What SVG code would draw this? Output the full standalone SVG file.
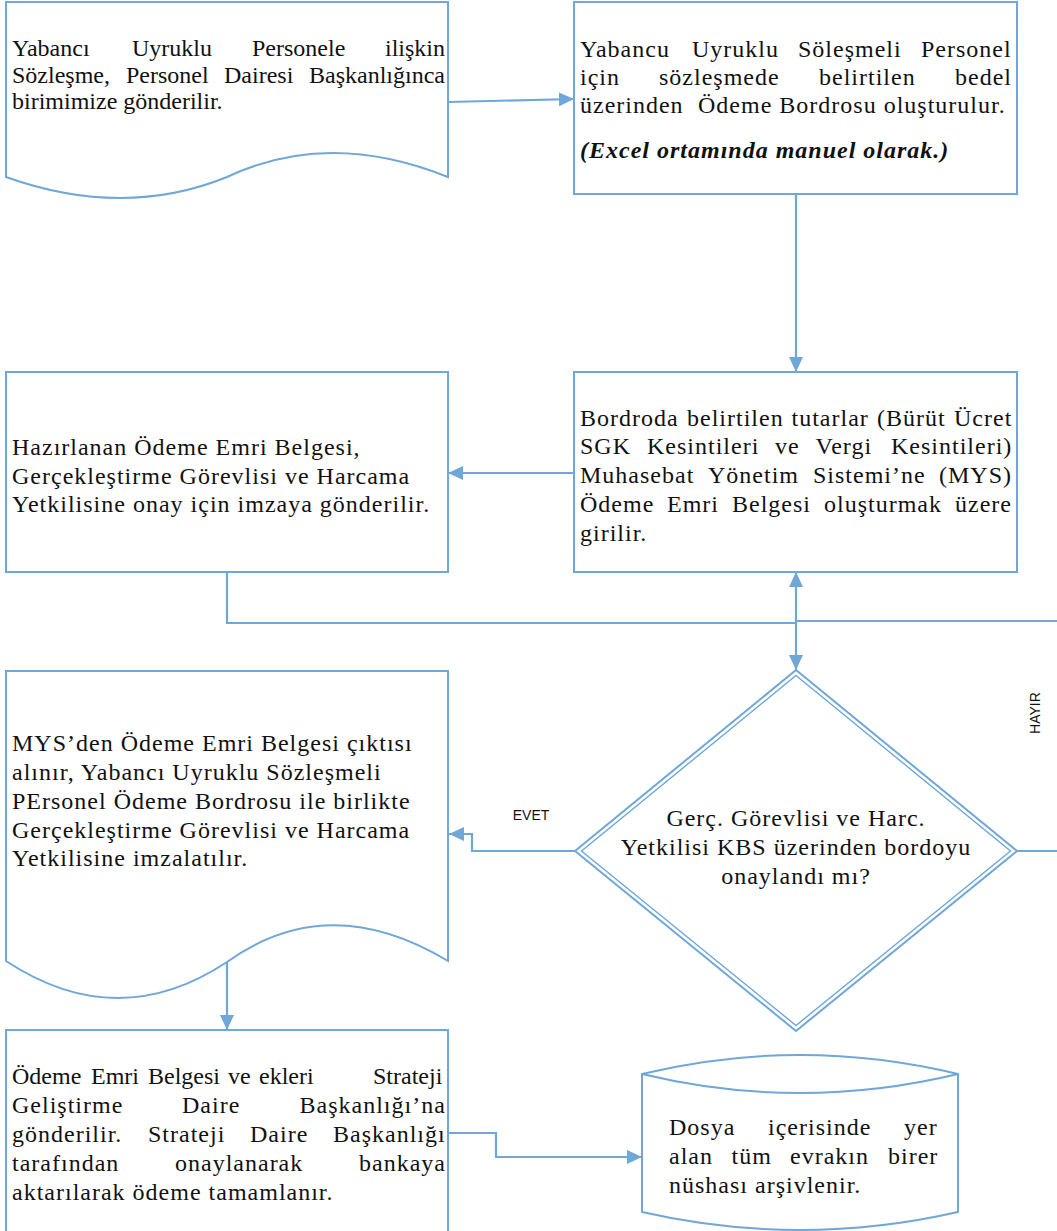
<svg xmlns="http://www.w3.org/2000/svg" width="1057" height="1231" viewBox="0 0 1057 1231">
  <style>
    .shape { fill: #ffffff; stroke: #6fa7d9; stroke-width: 2; }
    .dbl { fill: none; stroke: #6fa7d9; stroke-width: 1.4; }
    .conn { fill: none; stroke: #6fa7d9; stroke-width: 2.2; }
    .t { font-family: "Liberation Serif", "Times New Roman", serif; font-size: 24px; fill: #111111; letter-spacing: 1px; }
    .t0 { font-family: "Liberation Serif", "Times New Roman", serif; font-size: 24px; fill: #111111; }
    .bi { font-weight: bold; font-style: italic; }
    .lbl { font-family: "Liberation Sans", Arial, sans-serif; font-size: 14px; fill: #111111; }
  </style>
  <defs>
    <marker id="arrow" markerUnits="userSpaceOnUse" markerWidth="16" markerHeight="16" viewBox="0 0 16 16" refX="15" refY="8" orient="auto">
      <path d="M0,1 L15,8 L0,15 Z" fill="#6fa7d9"/>
    </marker>
  </defs>

  <rect width="1057" height="1231" fill="#ffffff"/>

  <!-- connectors -->
  <g id="connectors">
    <path class="conn" d="M448,102 L574,99" marker-end="url(#arrow)"/>
    <path class="conn" d="M796,194 V372" marker-end="url(#arrow)"/>
    <path class="conn" d="M574,473 H448" marker-end="url(#arrow)"/>
    <path class="conn" d="M227,572 V623 H796 V670" marker-end="url(#arrow)"/>
    <path class="conn" d="M1017,851 H1070 V621 H796 V572" marker-end="url(#arrow)"/>
    <path class="conn" d="M575,851 H472 V834 H449" marker-end="url(#arrow)"/>
    <path class="conn" d="M227,962 V1030" marker-end="url(#arrow)"/>
    <path class="conn" d="M448,1133 H496 V1157 H642" marker-end="url(#arrow)"/>
  </g>

  <!-- contract document received -->
  <g id="doc-sozlesme">
    <path class="shape" d="M6,2 H448 V177 Q328.5,129 227,177 Q123.5,219 6,177 Z"/>
    <text class="t0" y="56"><tspan x="12">Yabancı</tspan><tspan x="132">Uyruklu</tspan><tspan x="252">Personele</tspan><tspan x="385">ilişkin</tspan></text>
    <text class="t0" y="83"><tspan x="12">Sözleşme,</tspan><tspan x="126">Personel</tspan><tspan x="224">Dairesi</tspan><tspan x="309">Başkanlığınca</tspan></text>
    <text class="t0" x="12" y="109">birimimize gönderilir.</text>
  </g>

  <!-- payroll prepared -->
  <g id="box-bordro">
    <rect class="shape" x="574" y="2" width="443" height="192"/>
    <text class="t" y="57"><tspan x="580">Yabancu</tspan><tspan x="692">Uyruklu</tspan><tspan x="798">Söleşmeli</tspan><tspan x="921">Personel</tspan></text>
    <text class="t" y="85"><tspan x="580">için</tspan><tspan x="659">sözleşmede</tspan><tspan x="819">belirtilen</tspan><tspan x="955">bedel</tspan></text>
    <text class="t" y="113"><tspan x="580">üzerinden</tspan><tspan x="698">Ödeme Bordrosu oluşturulur.</tspan></text>
    <text class="t bi" x="580" y="158">(Excel ortamında manuel olarak.)</text>
  </g>

  <!-- amounts entered into MYS -->
  <g id="box-mys">
    <rect class="shape" x="574" y="372" width="443" height="200"/>
    <text class="t" y="426"><tspan x="580">Bordroda</tspan><tspan x="687">belirtilen</tspan><tspan x="791.5">tutarlar</tspan><tspan x="877">(Bürüt</tspan><tspan x="954">Ücret</tspan></text>
    <text class="t" y="454"><tspan x="580">SGK</tspan><tspan x="647">Kesintileri</tspan><tspan x="775">ve</tspan><tspan x="815.5">Vergi</tspan><tspan x="891">Kesintileri)</tspan></text>
    <text class="t" y="483"><tspan x="580">Muhasebat</tspan><tspan x="708">Yönetim</tspan><tspan x="813">Sistemi’ne</tspan><tspan x="939">(MYS)</tspan></text>
    <text class="t" y="512"><tspan x="580">Ödeme</tspan><tspan x="667">Emri</tspan><tspan x="732">Belgesi</tspan><tspan x="824">oluşturmak</tspan><tspan x="955">üzere</tspan></text>
    <text class="t" x="580" y="541">girilir.</text>
  </g>

  <!-- payment order sent for signature -->
  <g id="box-imza">
    <rect class="shape" x="6" y="372" width="442" height="200"/>
    <text class="t" x="12" y="455">Hazırlanan Ödeme Emri Belgesi,</text>
    <text class="t" x="12" y="483.5">Gerçekleştirme Görevlisi ve Harcama</text>
    <text class="t" x="12" y="512">Yetkilisine onay için imzaya gönderilir.</text>
  </g>

  <!-- approval decision -->
  <g id="decision-onay">
    <path class="shape" d="M796,670 L1017,851 L796,1031 L575,851 Z" stroke-width="1.4"/>
    <path class="dbl" d="M796,675.5 L1010.5,851 L796,1025.5 L581.5,851 Z"/>
    <text class="t" text-anchor="middle" x="796" y="826">Gerç. Görevlisi ve Harc.</text>
    <text class="t" text-anchor="middle" x="796" y="855">Yetkilisi KBS üzerinden bordoyu</text>
    <text class="t" text-anchor="middle" x="796" y="884">onaylandı mı?</text>
  </g>

  <text class="lbl" text-anchor="middle" x="531" y="820">EVET</text>
  <text class="lbl" text-anchor="middle" transform="translate(1040,713) rotate(-90)">HAYIR</text>

  <!-- printed payment order -->
  <g id="doc-cikti">
    <path class="shape" d="M6,671 H448 V961 Q328.5,889 227,962 Q117.5,1034.5 6,961 Z"/>
    <text class="t" x="12" y="751">MYS’den Ödeme Emri Belgesi çıktısı</text>
    <text class="t" x="12" y="779.5">alınır, Yabancı Uyruklu Sözleşmeli</text>
    <text class="t" x="12" y="808.5">PErsonel Ödeme Bordrosu ile birlikte</text>
    <text class="t" x="12" y="837.5">Gerçekleştirme Görevlisi ve Harcama</text>
    <text class="t" x="12" y="866">Yetkilisine imzalatılır.</text>
  </g>

  <!-- sent to strategy department -->
  <g id="box-strateji">
    <rect class="shape" x="6" y="1030" width="442" height="215"/>
    <text class="t0" y="1084"><tspan x="12">Ödeme</tspan><tspan x="91">Emri</tspan><tspan x="148">Belgesi</tspan><tspan x="228">ve</tspan><tspan x="259">ekleri</tspan><tspan x="373">Strateji</tspan></text>
    <text class="t" y="1113"><tspan x="12">Geliştirme</tspan><tspan x="182">Daire</tspan><tspan x="299.5">Başkanlığı’na</tspan></text>
    <text class="t" y="1142"><tspan x="12">gönderilir.</tspan><tspan x="148">Strateji</tspan><tspan x="250">Daire</tspan><tspan x="333">Başkanlığı</tspan></text>
    <text class="t" y="1171"><tspan x="12">tarafından</tspan><tspan x="175">onaylanarak</tspan><tspan x="359">bankaya</tspan></text>
    <text class="t" x="12" y="1200">aktarılarak ödeme tamamlanır.</text>
  </g>

  <!-- archive -->
  <g id="store-arsiv">
    <path class="shape" d="M642,1074 Q800,1036 958,1074 V1212 Q800,1248 642,1212 Z"/>
    <path class="shape" fill="none" d="M642,1074 Q800,1112 958,1074"/>
    <text class="t" y="1135"><tspan x="669">Dosya</tspan><tspan x="768">içerisinde</tspan><tspan x="904">yer</tspan></text>
    <text class="t" y="1164"><tspan x="669">alan</tspan><tspan x="731.5">tüm</tspan><tspan x="790">evrakın</tspan><tspan x="888">birer</tspan></text>
    <text class="t" x="669" y="1193">nüshası arşivlenir.</text>
  </g>
</svg>
